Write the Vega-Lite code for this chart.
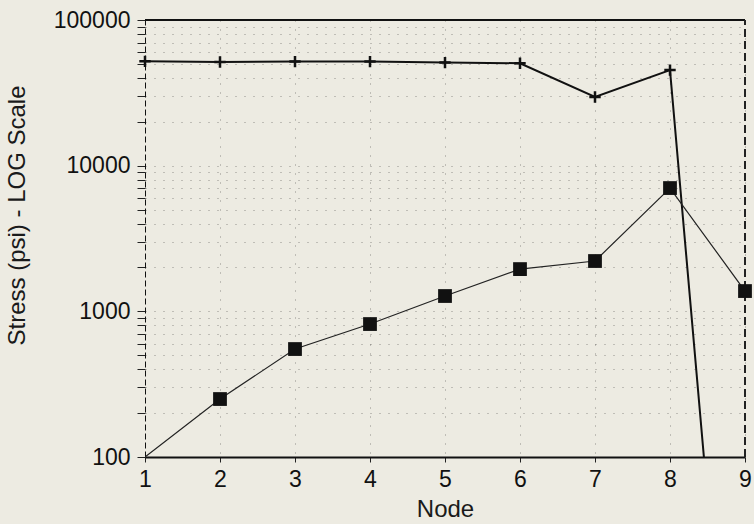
{
  "$schema": "https://vega.github.io/schema/vega-lite/v6.json",
  "width": 600,
  "height": 437,
  "autosize": "none",
  "padding": {"left": 145, "top": 20, "right": 9, "bottom": 67},
  "background": "#edebe2",
  "config": {
    "view": {"stroke": null},
    "font": "Liberation Sans",
    "axis": {
      "labelFont": "Liberation Sans",
      "titleFont": "Liberation Sans",
      "labelFontSize": 23,
      "titleFontSize": 24,
      "labelColor": "#111",
      "titleColor": "#1a1a1a",
      "titleFontWeight": "normal",
      "gridColor": "#222",
      "gridDash": [1, 8],
      "gridOpacity": 0.45,
      "gridWidth": 1,
      "tickColor": "#222",
      "domainColor": "#111"
    }
  },
  "data": {
    "values": [
      {"node": 1, "stress": 52000, "series": "plus"},
      {"node": 2, "stress": 51500, "series": "plus"},
      {"node": 3, "stress": 51800, "series": "plus"},
      {"node": 4, "stress": 51800, "series": "plus"},
      {"node": 5, "stress": 51000, "series": "plus"},
      {"node": 6, "stress": 50500, "series": "plus"},
      {"node": 7, "stress": 29600, "series": "plus"},
      {"node": 8, "stress": 45300, "series": "plus"},
      {"node": 9, "stress": 0.06, "series": "plus"},
      {"node": 1, "stress": 100, "series": "square"},
      {"node": 2, "stress": 250, "series": "square"},
      {"node": 3, "stress": 551, "series": "square"},
      {"node": 4, "stress": 818, "series": "square"},
      {"node": 5, "stress": 1274, "series": "square"},
      {"node": 6, "stress": 1950, "series": "square"},
      {"node": 7, "stress": 2215, "series": "square"},
      {"node": 8, "stress": 7020, "series": "square"},
      {"node": 9, "stress": 1378, "series": "square"}
    ]
  },
  "encoding": {
    "x": {
      "field": "node",
      "type": "quantitative",
      "scale": {"domain": [1, 9], "nice": false, "zero": false},
      "axis": {
        "title": "Node",
        "values": [1, 2, 3, 4, 5, 6, 7, 8, 9],
        "format": "d",
        "labelPadding": 6,
        "titlePadding": 6,
        "tickSize": 5,
        "domainWidth": 2,
        "labelFlush": false
      }
    },
    "y": {
      "field": "stress",
      "type": "quantitative",
      "scale": {"type": "log", "domain": [100, 100000], "nice": false},
      "axis": {
        "title": "Stress (psi) - LOG Scale",
        "values": [100, 200, 300, 400, 500, 600, 700, 800, 900, 1000, 2000, 3000, 4000, 5000, 6000, 7000, 8000, 9000, 10000, 20000, 30000, 40000, 50000, 60000, 70000, 80000, 90000, 100000],
        "format": "d",
        "labelExpr": "indexof(['100','1000','10000','100000'], datum.label) >= 0 ? datum.label : ''",
        "tickSize": 8,
        "labelPadding": 7,
        "titlePadding": 24,
        "titleY": 195,
        "domainDash": [6, 3],
        "domainWidth": 1,
        "labelFlush": false
      }
    }
  },
  "layer": [
    {
      "mark": {"type": "rule", "color": "#111", "strokeWidth": 2},
      "encoding": {
        "x": {"datum": 1, "type": "quantitative"},
        "x2": {"datum": 9},
        "y": {"datum": 100000, "type": "quantitative"}
      }
    },
    {
      "mark": {"type": "rule", "color": "#222", "strokeWidth": 1, "strokeDash": [8, 4]},
      "encoding": {
        "x": {"datum": 9, "type": "quantitative"},
        "y": {"datum": 100, "type": "quantitative"},
        "y2": {"datum": 100000}
      }
    },
    {
      "transform": [{"filter": "datum.series == 'plus'"}],
      "mark": {"type": "line", "color": "#111", "strokeWidth": 2, "clip": true},
      "encoding": {}
    },
    {
      "transform": [{"filter": "datum.series == 'square'"}],
      "mark": {"type": "line", "color": "#222", "strokeWidth": 1.2, "clip": true},
      "encoding": {}
    },
    {
      "transform": [{"filter": "datum.series == 'plus' && datum.node <= 8"}],
      "mark": {"type": "point", "shape": "M-1,0L1,0M0,-1L0,1", "size": 130, "stroke": "#111", "strokeWidth": 2.5, "filled": false, "opacity": 1},
      "encoding": {}
    },
    {
      "transform": [{"filter": "datum.series == 'square' && datum.node > 1"}],
      "mark": {"type": "square", "size": 190, "color": "#111", "opacity": 1, "clip": false},
      "encoding": {}
    }
  ]
}
